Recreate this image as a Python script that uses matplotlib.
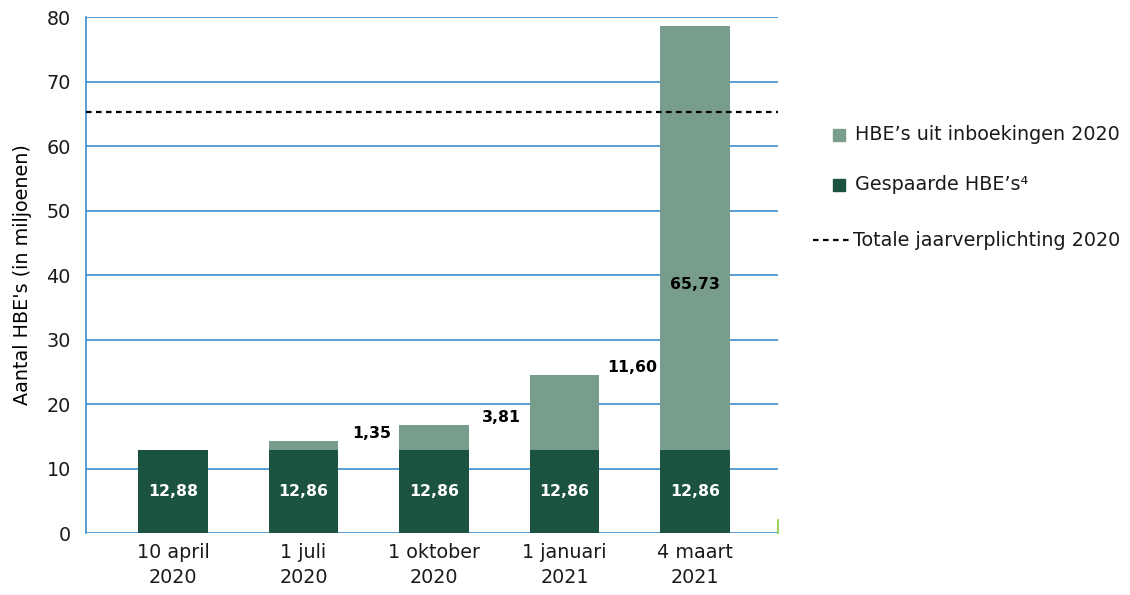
import matplotlib
matplotlib.use("Agg")
import matplotlib.pyplot as plt
import numpy as np
from matplotlib.patches import Rectangle
from matplotlib.lines import Line2D

plt.rcParams['font.family'] = ['DejaVu Sans']

categories = ["10 april\n2020", "1 juli\n2020", "1 oktober\n2020", "1 januari\n2021", "4 maart\n2021"]
gespaard = [12.88, 12.86, 12.86, 12.86, 12.86]
inboekingen = [0.0, 1.35, 3.81, 11.60, 65.73]
jaarverplichting = 65.3
yticks = [0, 10, 20, 30, 40, 50, 60, 70, 80]

dark = '#1b5340'
light = '#789d8d'
grid_blue = '#3a8fd0'
txt = '#1a1a1a'
FS = 13.8

fig = plt.figure(figsize=(11.3, 5.95), dpi=100)
ax = fig.add_axes([0.0761, 0.1042, 0.6124, 0.8672])

x = np.arange(len(categories))
w = 0.536
ax.bar(x, gespaard, width=w, color=dark, zorder=3)
ax.bar(x, inboekingen, width=w, bottom=gespaard, color=light, zorder=3)

ax.set_xlim(-0.667, 4.636)
ax.set_ylim(0, 80)
ax.set_yticks(yticks)
ax.set_yticklabels([str(t) for t in yticks], fontsize=FS)
ax.set_xticks(x)
ax.set_xticklabels(categories, fontsize=FS, linespacing=1.4)
ax.tick_params(axis='both', length=0, colors=txt)
ax.tick_params(axis='y', pad=11)
ax.tick_params(axis='x', pad=7)

for yv in yticks:
    ax.axhline(yv, color=grid_blue, lw=1.2, zorder=1)
for s in ['top', 'right', 'bottom']:
    ax.spines[s].set_visible(False)
ax.spines['left'].set_color(grid_blue)
ax.spines['left'].set_linewidth(1.2)

ax.axhline(jaarverplichting, color='black', lw=1.6, ls=(0, (2.5, 2)), zorder=4)

# small green tick at right end of baseline
ax.plot([ax.get_xlim()[1]] * 2, [0, 2], color='#8cc63f', lw=1.2, zorder=4, clip_on=False)

def fmt(v):
    return f"{v:.2f}".replace('.', ',')

for i in range(len(categories)):
    ax.text(x[i], gespaard[i] / 2, fmt(gespaard[i]), ha='center', va='center',
            color='white', fontsize=11.3, fontweight='bold', zorder=5)
    if inboekingen[i] > 0:
        total = gespaard[i] + inboekingen[i]
        if inboekingen[i] > 30:
            ax.text(x[i], gespaard[i] + inboekingen[i] * 0.39, fmt(inboekingen[i]),
                    ha='center', va='center', color='black', fontsize=11.3,
                    fontweight='bold', zorder=5)
        else:
            ax.text(x[i] + 0.52, total + 1.2, fmt(inboekingen[i]), ha='center',
                    va='center', color='black', fontsize=11.3, fontweight='bold', zorder=5)

ax.set_ylabel("Aantal HBE's (in miljoenen)", fontsize=FS, labelpad=10)

# legend (manual, figure coords)
W, H = 1130, 595
def fx(px): return px / W
def fy(py): return 1 - py / H

sq = 12
fig.patches.append(Rectangle((fx(833), fy(135 + sq / 2)), fx(sq), sq / H,
                             transform=fig.transFigure, color=light))
fig.text(fx(855), fy(135), "HBE’s uit inboekingen 2020", fontsize=FS,
         va='center', ha='left', color=txt)
fig.patches.append(Rectangle((fx(833), fy(185 + sq / 2)), fx(sq), sq / H,
                             transform=fig.transFigure, color=dark))
fig.text(fx(855), fy(185), "Gespaarde HBE’s⁴", fontsize=FS,
         va='center', ha='left', color=txt)
fig.lines.append(Line2D([fx(813), fx(851)], [fy(240), fy(240)], transform=fig.transFigure,
                        color='black', lw=1.6, ls=(0, (2.5, 2))))
fig.text(fx(853), fy(240), "Totale jaarverplichting 2020", fontsize=FS,
         va='center', ha='left', color=txt)

fig.savefig("out.png", dpi=100)
